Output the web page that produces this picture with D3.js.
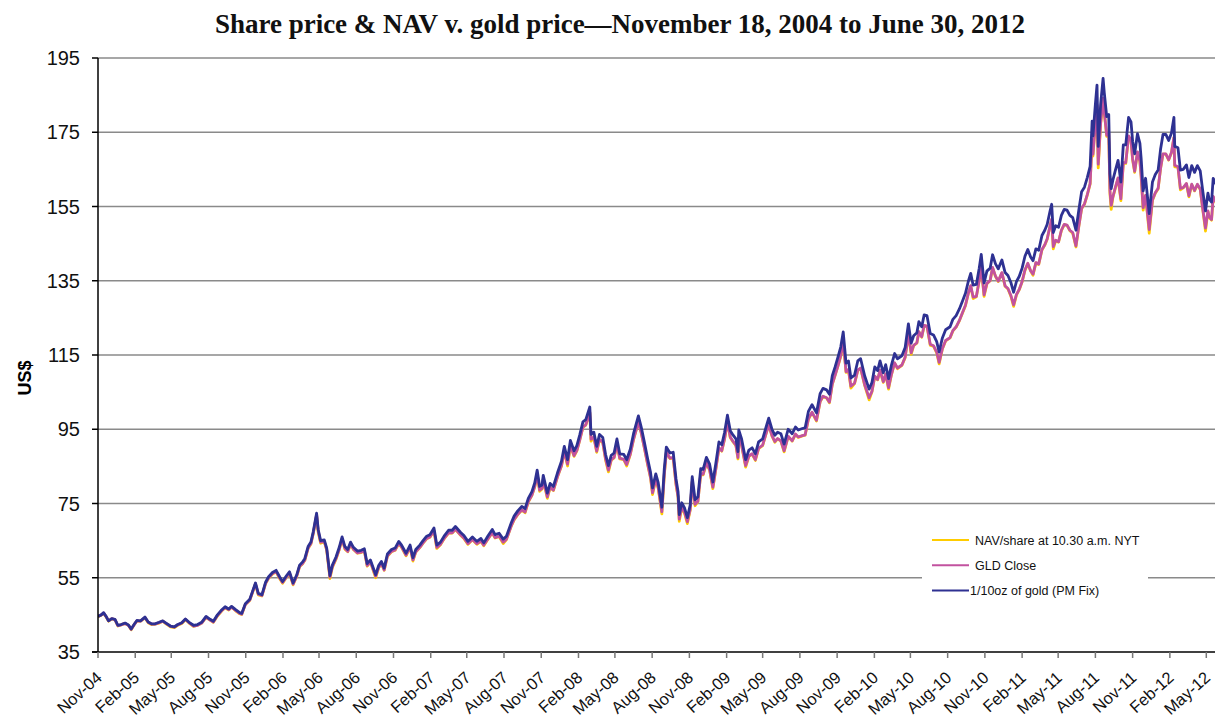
<!DOCTYPE html>
<html>
<head>
<meta charset="utf-8">
<script src="https://cdnjs.cloudflare.com/ajax/libs/d3/7.8.5/d3.min.js"></script>
<style>
body { margin: 0; background: #fff; }
</style>
</head>
<body>
<svg id="chart" width="1215" height="717"></svg>
<script>
var dates = [
"2004-11-18","2004-11-26","2004-12-02","2004-12-09","2004-12-14","2004-12-22","2004-12-30",
"2005-01-06","2005-01-14","2005-01-24","2005-02-01","2005-02-08","2005-02-15","2005-02-22","2005-03-03","2005-03-14","2005-03-22","2005-03-30",
"2005-04-08","2005-04-18","2005-04-27","2005-05-05","2005-05-16","2005-05-26","2005-06-03","2005-06-13","2005-06-22",
"2005-07-01","2005-07-12","2005-07-22","2005-08-01","2005-08-12","2005-08-22","2005-08-30","2005-09-09","2005-09-20","2005-09-28",
"2005-10-07","2005-10-14","2005-10-24","2005-11-03","2005-11-08","2005-11-17","2005-11-28","2005-12-05","2005-12-12","2005-12-19","2005-12-28",
"2006-01-06","2006-01-13","2006-01-23","2006-02-01","2006-02-10","2006-02-17","2006-02-27","2006-03-06","2006-03-15","2006-03-24","2006-03-31",
"2006-04-07","2006-04-13","2006-04-21","2006-04-28","2006-05-04","2006-05-12","2006-05-16","2006-05-22","2006-05-31","2006-06-06","2006-06-14","2006-06-20","2006-06-29",
"2006-07-07","2006-07-14","2006-07-21","2006-07-28","2006-08-04","2006-08-11","2006-08-21","2006-08-30","2006-09-07","2006-09-14","2006-09-22",
"2006-10-05","2006-10-12","2006-10-19","2006-10-26","2006-11-03","2006-11-13","2006-11-22","2006-12-01","2006-12-08","2006-12-19","2006-12-29",
"2007-01-05","2007-01-12","2007-01-22","2007-01-30","2007-02-08","2007-02-16","2007-02-26","2007-03-05","2007-03-14","2007-03-23",
"2007-04-03","2007-04-12","2007-04-20","2007-05-03","2007-05-11","2007-05-21","2007-06-01","2007-06-12","2007-06-22","2007-06-29",
"2007-07-10","2007-07-20","2007-07-27","2007-08-06","2007-08-16","2007-08-24","2007-09-05","2007-09-12","2007-09-21",
"2007-10-01","2007-10-09","2007-10-17","2007-10-26","2007-11-02","2007-11-08","2007-11-14","2007-11-20","2007-11-23","2007-12-03","2007-12-10","2007-12-18","2007-12-28",
"2008-01-07","2008-01-14","2008-01-22","2008-01-29","2008-02-07","2008-02-14","2008-02-21","2008-02-29","2008-03-07","2008-03-17","2008-03-20","2008-03-27",
"2008-04-03","2008-04-10","2008-04-18","2008-04-25","2008-05-02","2008-05-09","2008-05-16","2008-05-23","2008-05-30","2008-06-09","2008-06-16","2008-06-25",
"2008-07-03","2008-07-15","2008-07-22","2008-07-30","2008-08-07","2008-08-14","2008-08-19","2008-08-27","2008-09-02","2008-09-11","2008-09-17","2008-09-22",
"2008-10-01","2008-10-09","2008-10-16","2008-10-21","2008-10-24","2008-10-30","2008-11-06","2008-11-13","2008-11-20","2008-11-25","2008-12-02","2008-12-09","2008-12-16","2008-12-22","2008-12-30",
"2009-01-07","2009-01-15","2009-01-22","2009-01-30","2009-02-06","2009-02-13","2009-02-20","2009-02-27","2009-03-06","2009-03-13","2009-03-18","2009-03-20","2009-03-27",
"2009-04-06","2009-04-14","2009-04-22","2009-04-30","2009-05-08","2009-05-18","2009-05-26","2009-06-02","2009-06-10","2009-06-17","2009-06-24",
"2009-07-02","2009-07-10","2009-07-20","2009-07-30","2009-08-07","2009-08-14","2009-08-24","2009-08-31","2009-09-08","2009-09-17","2009-09-28",
"2009-10-07","2009-10-14","2009-10-23","2009-10-30","2009-11-06","2009-11-13","2009-11-20","2009-11-27","2009-12-03","2009-12-10","2009-12-16","2009-12-22","2009-12-31",
"2010-01-08","2010-01-15","2010-01-25","2010-02-05","2010-02-12","2010-02-19","2010-02-26","2010-03-04","2010-03-12","2010-03-18","2010-03-25",
"2010-04-01","2010-04-09","2010-04-16","2010-04-27","2010-05-05","2010-05-13","2010-05-20","2010-05-26","2010-06-03","2010-06-08","2010-06-15","2010-06-21","2010-06-28",
"2010-07-06","2010-07-14","2010-07-22","2010-07-28","2010-08-05","2010-08-13","2010-08-24","2010-08-31","2010-09-08","2010-09-16","2010-09-24",
"2010-10-01","2010-10-08","2010-10-14","2010-10-20","2010-10-28","2010-11-04","2010-11-09","2010-11-16","2010-11-23","2010-12-01","2010-12-07","2010-12-14","2010-12-21","2010-12-30",
"2011-01-07","2011-01-14","2011-01-21","2011-01-28","2011-02-04","2011-02-11","2011-02-18","2011-02-25","2011-03-04","2011-03-11","2011-03-17","2011-03-24","2011-03-31",
"2011-04-08","2011-04-15","2011-04-21","2011-04-28","2011-05-02","2011-05-06","2011-05-12","2011-05-19","2011-05-26","2011-06-02","2011-06-09","2011-06-16","2011-06-23",
"2011-07-01","2011-07-08","2011-07-15","2011-07-22","2011-07-29","2011-08-05","2011-08-10","2011-08-12","2011-08-18","2011-08-22","2011-08-25","2011-08-31",
"2011-09-06","2011-09-09","2011-09-15","2011-09-20","2011-09-23","2011-09-26","2011-09-30",
"2011-10-06","2011-10-13","2011-10-20","2011-10-26","2011-11-01","2011-11-08","2011-11-14","2011-11-18","2011-11-23","2011-11-30","2011-12-06","2011-12-09","2011-12-14","2011-12-20","2011-12-29",
"2012-01-06","2012-01-13","2012-01-20","2012-01-26","2012-02-01","2012-02-08","2012-02-15","2012-02-22","2012-02-28","2012-03-01","2012-03-09","2012-03-15","2012-03-22","2012-03-30",
"2012-04-05","2012-04-12","2012-04-19","2012-04-26","2012-05-03","2012-05-09","2012-05-16","2012-05-22","2012-05-25","2012-05-31","2012-06-04","2012-06-12","2012-06-20","2012-06-29"
];

// 1/10oz of gold (PM Fix), US$
var gold = [
44.6,45.0,45.6,44.4,43.4,44.0,43.8,
42.2,42.4,42.8,42.3,41.2,42.4,43.5,43.4,44.4,43.1,42.6,
42.6,43.0,43.4,42.8,42.0,41.8,42.4,42.9,43.9,
43.0,42.2,42.4,43.0,44.6,43.8,43.3,45.0,46.4,47.2,
46.6,47.3,46.4,45.6,45.4,48.0,49.2,51.4,53.6,50.8,50.4,
53.8,55.2,56.4,57.0,55.2,54.0,55.6,56.6,53.6,55.8,58.4,
59.2,60.2,63.4,64.6,67.5,72.4,68.0,65.0,65.2,63.0,55.6,58.4,60.6,
63.2,66.0,63.4,62.6,64.6,63.2,62.2,62.4,62.8,58.8,59.8,
55.8,58.2,59.4,57.6,61.4,62.6,63.0,64.8,63.8,61.6,63.8,
60.4,62.6,63.8,65.0,66.2,66.6,68.4,63.8,64.6,66.2,
67.8,67.8,68.8,67.2,66.4,64.8,66.0,64.8,65.6,64.4,
66.4,68.0,66.6,67.0,65.4,66.2,69.8,71.6,73.0,
74.2,73.6,76.4,78.2,80.6,84.0,79.6,80.0,82.6,77.8,80.4,79.6,83.2,
86.4,90.4,86.8,92.0,89.2,90.6,93.4,97.0,97.6,101.0,93.6,94.2,
90.4,93.6,92.8,88.2,85.2,88.0,88.6,92.4,88.4,88.2,86.8,89.6,
93.8,98.6,95.6,91.4,87.0,83.4,79.2,83.0,80.6,74.0,84.4,90.2,
88.6,88.8,81.6,78.2,72.0,75.2,73.8,71.2,74.6,82.2,76.0,76.8,84.4,84.2,87.4,
85.6,80.8,85.6,91.6,90.8,94.2,98.8,94.6,93.4,92.4,89.0,94.8,92.4,
86.8,89.4,90.0,88.4,91.6,92.4,95.4,98.0,95.0,93.4,94.2,
93.8,91.0,95.0,93.8,95.6,94.8,95.2,95.4,99.8,101.6,99.4,
104.6,106.0,105.6,104.4,109.4,111.8,114.4,117.2,121.2,112.8,113.4,108.8,109.6,
113.4,114.0,109.4,105.8,107.6,111.8,110.8,113.4,110.2,112.4,108.6,
112.2,115.4,114.0,114.8,117.0,123.4,118.2,120.2,121.0,124.0,122.6,125.8,125.6,
120.8,120.4,118.6,115.8,119.6,121.8,122.6,124.6,125.6,127.4,129.6,
131.6,134.8,137.0,133.8,134.0,138.4,142.1,134.4,137.6,138.4,142.0,139.6,138.2,140.6,
137.2,136.4,134.6,131.9,134.8,136.2,138.4,141.6,143.4,141.4,140.4,143.6,143.2,
147.2,148.6,150.2,153.8,155.6,148.0,149.8,149.4,152.6,154.2,154.0,152.6,152.0,
148.6,154.0,159.0,160.2,162.8,165.8,178.0,174.0,182.6,187.7,171.2,182.6,
189.5,185.6,179.2,179.8,163.8,159.8,162.0,
164.6,167.4,161.6,171.6,171.6,179.0,177.8,172.6,169.2,174.6,172.0,168.0,159.2,162.6,153.1,
161.6,163.6,164.8,170.4,174.4,174.4,172.8,174.8,179.0,171.2,170.8,164.8,165.0,166.2,
162.8,166.0,164.2,166.0,164.6,159.4,153.8,158.6,157.0,156.2,162.6,160.8,159.4,159.8
];

// GLD Close, US$
var gld_close = [
44.6,45.0,45.5,44.4,43.4,44.0,43.7,
42.1,42.3,42.7,42.2,41.1,42.3,43.4,43.3,44.3,43.0,42.5,
42.5,42.9,43.3,42.7,41.9,41.7,42.3,42.8,43.8,
42.9,42.0,42.2,42.8,44.4,43.6,43.1,44.8,46.2,47.0,
46.4,47.1,46.2,45.4,45.2,47.8,49.0,51.2,53.4,50.6,50.2,
53.5,54.9,56.1,56.7,54.9,53.7,55.3,56.3,53.3,55.5,58.1,
58.8,59.8,63.0,64.2,67.1,72.0,67.6,64.6,64.8,62.6,55.2,58.0,60.2,
62.7,65.5,62.9,62.1,64.1,62.7,61.7,61.9,62.3,58.3,59.3,
55.4,57.7,58.9,57.1,60.9,62.1,62.5,64.3,63.3,61.1,63.3,
59.8,62.0,63.2,64.4,65.6,66.0,67.7,63.2,64.0,65.6,
67.1,67.1,68.1,66.5,65.7,64.2,65.3,64.2,64.9,63.8,
65.6,67.2,65.8,66.2,64.6,65.4,69.0,70.7,72.1,
73.3,72.7,75.5,77.3,79.6,83.0,78.6,79.0,81.6,76.8,79.4,78.6,82.2,
85.2,89.1,85.6,90.7,87.9,89.3,92.1,95.6,96.2,99.6,92.3,92.9,
89.1,92.3,91.5,87.0,84.0,86.8,87.4,91.1,87.2,86.9,85.5,88.3,
92.3,97.0,94.1,89.9,85.6,82.1,77.9,81.7,79.3,72.8,83.0,88.8,
87.2,87.4,80.3,76.9,70.8,74.0,72.6,70.1,73.4,80.9,74.8,75.6,83.0,82.9,86.0,
84.1,79.4,84.1,90.0,89.2,92.5,97.0,92.9,91.7,90.7,87.4,93.1,90.7,
85.2,87.8,88.4,86.8,89.9,90.7,93.7,96.2,93.3,91.7,92.5,
91.9,89.2,93.1,91.9,93.7,92.9,93.3,93.5,97.8,99.6,97.4,
102.5,103.9,103.5,102.3,107.2,109.6,112.1,114.9,118.8,110.5,111.1,106.6,107.4,
110.9,111.5,107.0,103.5,105.2,109.3,108.4,110.9,107.8,109.9,106.2,
109.7,112.9,111.5,112.3,114.4,120.7,115.6,117.6,118.3,121.3,119.9,123.0,122.8,
117.9,117.5,115.8,113.0,116.7,118.9,119.7,121.6,122.6,124.3,126.5,
128.4,131.6,133.7,130.6,130.8,135.1,138.7,131.2,134.3,135.1,138.6,136.3,134.9,137.2,
133.6,132.9,131.1,128.5,131.3,132.7,134.8,137.9,139.7,137.7,136.8,139.9,139.5,
143.4,144.7,146.3,149.8,151.6,144.2,145.9,145.5,148.6,150.2,150.0,148.6,148.0,
144.4,149.7,154.5,155.7,158.2,161.2,173.0,169.1,177.5,182.4,166.4,177.5,
184.2,180.4,174.2,174.8,159.2,155.3,157.5,
160.0,162.7,157.1,166.8,166.8,174.0,172.8,167.8,164.5,169.7,167.2,163.3,154.7,158.0,148.8,
156.8,158.7,159.9,165.3,169.2,169.2,167.6,169.6,173.6,166.1,165.7,159.9,160.1,161.2,
157.9,161.0,159.3,161.0,159.7,154.6,149.2,153.8,152.3,151.5,157.7,156.0,154.6,155.0
];

// NAV/share at 10.30 a.m. NYT, US$
var nav = [
44.5,44.9,45.4,44.3,43.3,43.9,43.7,
42.0,42.3,42.7,42.2,41.0,42.3,43.3,43.3,44.2,42.9,42.4,
42.5,42.8,43.3,42.6,41.8,41.6,42.2,42.7,43.7,
42.8,41.9,42.2,42.8,44.3,43.6,43.0,44.7,46.1,46.9,
46.3,47.1,46.1,45.3,45.1,47.8,48.9,51.1,53.3,50.4,50.1,
53.4,54.8,56.0,56.6,54.7,53.5,55.2,56.2,53.1,55.4,58.0,
58.7,59.7,62.9,64.1,67.0,71.8,67.3,64.3,64.7,62.4,54.8,57.8,60.0,
62.6,65.4,62.7,62.0,64.0,62.6,61.6,61.8,62.2,58.1,59.2,
55.0,57.6,58.8,57.0,60.8,62.0,62.4,64.2,63.2,60.9,63.2,
59.5,61.9,63.1,64.3,65.5,65.9,67.6,62.9,63.9,65.5,
67.0,67.0,68.0,66.4,65.6,64.0,65.2,64.0,64.8,63.6,
65.5,67.1,65.7,66.1,64.2,65.3,68.9,70.6,72.0,
73.2,72.5,75.4,77.2,79.5,82.8,78.3,78.9,81.5,76.4,79.3,78.5,82.1,
85.1,89.0,85.1,90.6,87.7,89.2,92.0,95.5,96.1,99.4,91.8,92.8,
88.8,92.2,91.4,86.7,83.5,86.7,87.3,91.0,87.0,86.8,85.1,88.2,
92.2,96.9,94.0,89.8,85.4,81.9,77.4,81.6,79.1,72.2,82.6,88.7,
87.1,87.2,80.0,76.7,70.2,73.8,72.4,69.6,73.2,80.8,74.4,75.5,82.9,82.7,85.9,
84.0,79.0,84.0,89.9,89.1,92.4,96.9,92.7,91.6,90.6,87.0,93.0,90.6,
84.8,87.7,88.3,86.6,89.8,90.6,93.6,96.1,93.2,91.5,92.4,
91.8,88.9,93.0,91.8,93.6,92.8,93.2,93.4,97.7,99.5,97.2,
102.4,103.8,103.4,102.1,107.1,109.5,112.0,114.6,118.6,110.3,111.0,106.1,107.3,
110.8,111.4,106.8,102.9,105.1,109.2,108.3,110.8,107.6,109.8,105.8,
109.6,112.8,111.3,112.2,114.3,120.5,115.2,117.5,118.2,121.2,119.8,122.9,122.7,
117.6,117.4,115.6,112.6,116.6,118.8,119.6,121.5,122.5,124.2,126.4,
128.3,131.5,133.6,130.2,130.7,135.0,138.5,130.8,134.2,135.0,138.5,136.2,134.8,137.1,
133.5,132.8,130.9,128.1,131.2,132.6,134.7,137.8,139.6,137.6,136.5,139.8,139.4,
143.3,144.6,146.2,149.7,151.4,143.6,145.8,145.4,148.5,150.1,149.9,148.5,147.8,
144.1,149.6,154.4,155.6,158.1,161.0,172.8,168.6,177.3,182.1,165.4,177.3,
183.8,180.2,173.9,174.6,158.4,154.2,157.3,
159.8,162.6,156.6,166.7,166.6,173.9,172.7,167.5,164.2,169.6,167.1,163.1,154.0,157.9,147.8,
156.6,158.6,159.7,165.2,169.1,169.1,167.5,169.5,173.5,165.7,165.6,159.5,160.0,161.1,
157.6,160.9,159.2,160.9,159.6,154.4,148.4,153.7,152.1,151.3,157.6,155.9,154.5,154.9
];

var series_names = ["NAV/share at 10.30 a.m. NYT", "GLD Close", "1/10oz of gold (PM Fix)"];
var y_ticks = [35, 55, 75, 95, 115, 135, 155, 175, 195];
var x_tick_labels = ["Nov-04","Feb-05","May-05","Aug-05","Nov-05","Feb-06","May-06","Aug-06",
    "Nov-06","Feb-07","May-07","Aug-07","Nov-07","Feb-08","May-08","Aug-08","Nov-08","Feb-09",
    "May-09","Aug-09","Nov-09","Feb-10","May-10","Aug-10","Nov-10","Feb-11","May-11","Aug-11",
    "Nov-11","Feb-12","May-12"];
var title = "Share price & NAV v. gold price\u2014November 18, 2004 to June 30, 2012";

var colors = ["#ffcc00", "#c2529f", "#2e3192"];
var sans = "Arial, 'Liberation Sans', sans-serif";
var serif = "'Times New Roman', 'Liberation Serif', serif";

var parse = d3.timeParse("%Y-%m-%d");
var start = parse(dates[0]);
var rows = dates.map(function(d, i) {
    return {date: parse(d), values: [nav[i], gld_close[i], gold[i]]};
});

var width = 1215, height = 717;
var left = 98, top_ = 58, bottom = 652;

// the axis runs past the right edge of the picture; the last weeks are cut off
var x = d3.scaleTime()
    .domain([start, parse(dates[dates.length - 1])])
    .range([left, 1223.3]);
var y = d3.scaleLinear().domain([35, 195]).range([bottom, top_]);

var svg = d3.select("#chart");
svg.append("rect").attr("width", width).attr("height", height).attr("fill", "#fff");

svg.append("text")
    .attr("x", 620)
    .attr("y", 33)
    .attr("text-anchor", "middle")
    .style("font-family", serif)
    .style("font-weight", "bold")
    .style("font-size", "27px")
    .attr("fill", "#111")
    .text(title);

// horizontal grid
svg.append("g").selectAll("line")
    .data(y_ticks.slice(1))
    .enter().append("line")
    .attr("x1", left).attr("x2", width)
    .attr("y1", function(d) { return y(d); })
    .attr("y2", function(d) { return y(d); })
    .attr("stroke", "#8a8a8a")
    .attr("stroke-width", 1.5);

svg.append("clipPath").attr("id", "plot")
    .append("rect").attr("x", left).attr("y", 0).attr("width", width - left).attr("height", bottom);

var line = function(k) {
    return d3.line()
        .x(function(d) { return x(d.date); })
        .y(function(d) { return y(d.values[k]); });
};

svg.append("g").attr("clip-path", "url(#plot)")
    .selectAll("path")
    .data([0, 1, 2])
    .enter().append("path")
    .attr("fill", "none")
    .attr("stroke", function(k) { return colors[k]; })
    .attr("stroke-width", 2.8)
    .attr("stroke-linejoin", "round")
    .attr("d", function(k) { return line(k)(rows); });

// y axis
svg.append("line")
    .attr("x1", left).attr("x2", left).attr("y1", top_).attr("y2", bottom)
    .attr("stroke", "#000").attr("stroke-width", 1.5);

var yt = svg.append("g").selectAll("g").data(y_ticks).enter().append("g");
yt.append("line")
    .attr("x1", left - 6).attr("x2", left)
    .attr("y1", function(d) { return y(d); })
    .attr("y2", function(d) { return y(d); })
    .attr("stroke", "#000").attr("stroke-width", 1.5);
yt.append("text")
    .attr("x", 80)
    .attr("y", function(d) { return y(d); })
    .attr("dy", 7)
    .attr("text-anchor", "end")
    .style("font-family", sans)
    .style("font-size", "20px")
    .attr("fill", "#111")
    .text(function(d) { return d; });

svg.append("text")
    .attr("transform", "translate(31,378) rotate(-90)")
    .attr("text-anchor", "middle")
    .style("font-family", sans)
    .style("font-size", "18px")
    .style("font-weight", "bold")
    .attr("fill", "#000")
    .text("US$");

// x axis
svg.append("line")
    .attr("x1", left - 6).attr("x2", width).attr("y1", bottom).attr("y2", bottom)
    .attr("stroke", "#000").attr("stroke-width", 1.5);

var xt = svg.append("g").selectAll("g")
    .data(x_tick_labels)
    .enter().append("g")
    .attr("transform", function(d, i) {
        return "translate(" + x(d3.timeMonth.offset(start, 3 * i)) + "," + bottom + ")";
    });
xt.append("line")
    .attr("y1", 0).attr("y2", 6)
    .attr("stroke", "#777").attr("stroke-width", 1.5);
xt.append("text")
    .attr("transform", "translate(5,27) rotate(-42)")
    .attr("text-anchor", "end")
    .style("font-family", sans)
    .style("font-size", "16.5px")
    .attr("fill", "#111")
    .text(function(d) { return d; });

// legend
var legend = svg.append("g");
legend.append("rect")
    .attr("x", 922).attr("y", 527).attr("width", 226).attr("height", 76)
    .attr("fill", "#fff");
var items = legend.selectAll("g")
    .data(series_names)
    .enter().append("g")
    .attr("transform", function(d, i) { return "translate(932," + (540 + 25.3 * i) + ")"; });
items.append("line")
    .attr("x1", 0).attr("x2", 37)
    .attr("stroke", function(d, i) { return colors[i]; })
    .attr("stroke-width", 2);
items.append("text")
    .attr("x", function(d, i) { return i == 2 ? 38 : 43; })
    .attr("dy", 4.5)
    .style("font-family", sans)
    .style("font-size", "12.5px")
    .attr("fill", "#111")
    .text(function(d) { return d; });
</script>
</body>
</html>
